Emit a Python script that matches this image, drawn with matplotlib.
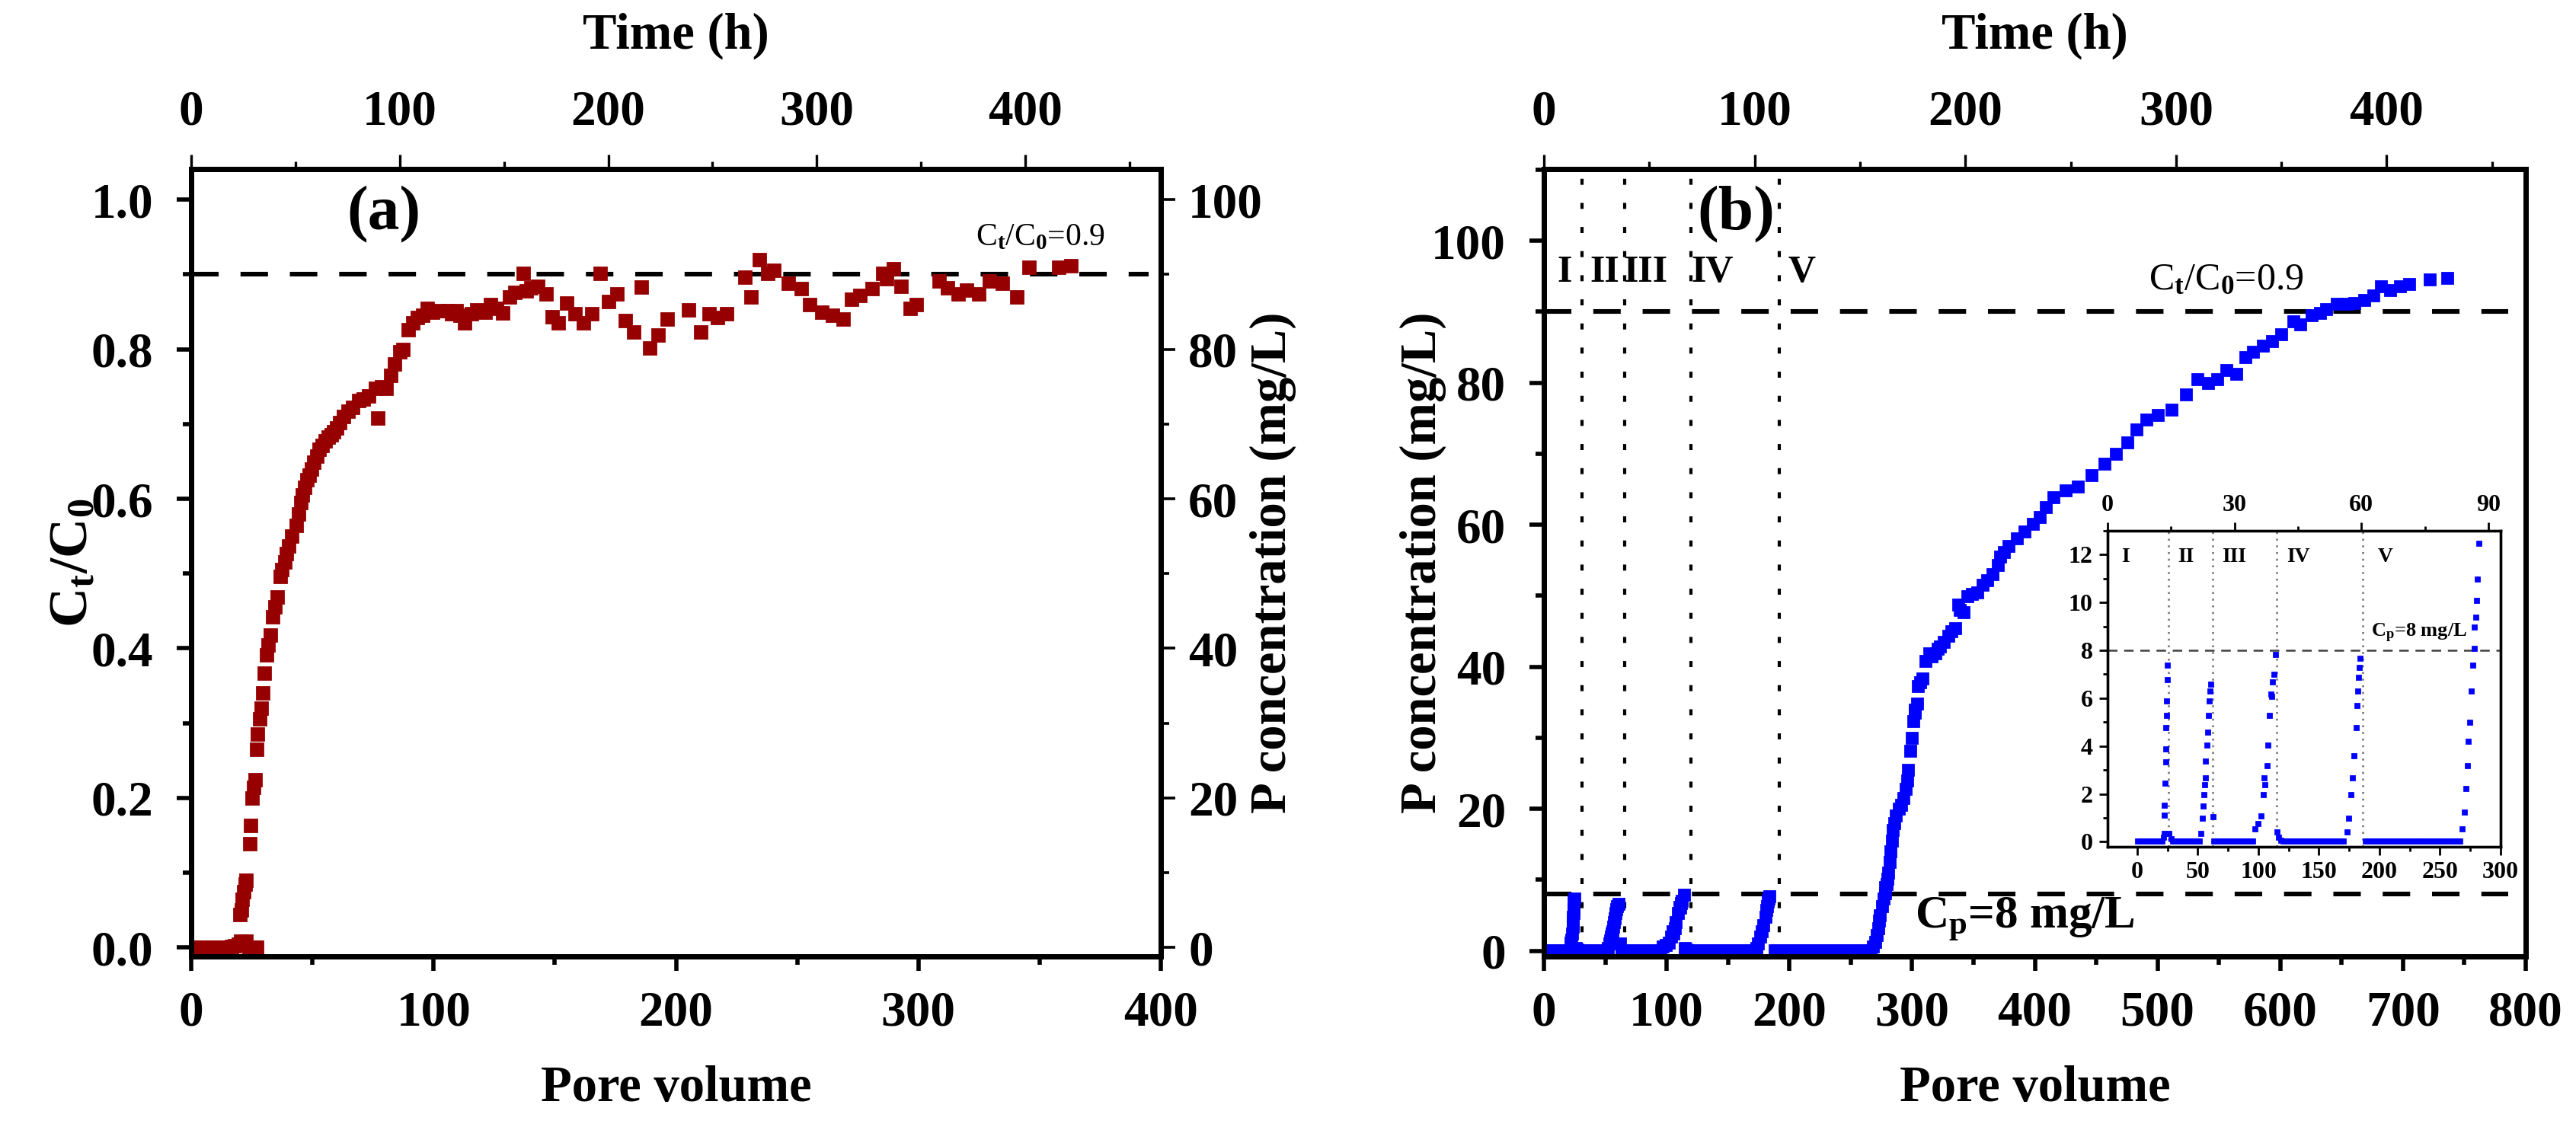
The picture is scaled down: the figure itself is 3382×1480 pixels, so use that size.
import matplotlib
matplotlib.use('Agg')
import matplotlib.pyplot as plt
from matplotlib.ticker import MultipleLocator

plt.rcParams['font.family'] = ['Liberation Serif', 'DejaVu Serif']
plt.rcParams['font.weight'] = 'bold'
plt.rcParams['mathtext.fontset'] = 'custom'
plt.rcParams['mathtext.rm'] = 'Liberation Serif'
plt.rcParams['mathtext.it'] = 'Liberation Serif:italic'
plt.rcParams['mathtext.bf'] = 'Liberation Serif:bold'

# ---------------- Panel (a) data: pore volume vs Ct/C0 ----------------
pv_a = [0, 1.5, 3, 4.5, 6, 7.5, 9, 10.5, 12, 13.5, 15, 16.5, 18, 19.5, 20.5, 21.5, 22.5, 24, 25.5, 27,
        20.1, 20.6, 21.1, 21.6, 22.2, 22.7, 24.3, 24.4, 25.2, 25.9, 26.5, 26.9, 27.4, 28.3, 28.8, 29.4,
        30.2, 31.1, 31.8, 32.6, 33.7, 34.5, 35.5, 36.7, 37.5, 38.5, 39.3, 40.3, 41.5, 43.3, 44.2, 45.1,
        46.0, 46.9, 47.8, 48.7, 49.6, 50.5, 51.7, 52.9, 54.1, 55.3, 56.5, 57.7, 58.9, 60.1, 61.3, 63,
        64.8, 66.5, 69, 71, 73.3, 77, 76.1, 78.5, 80.3, 82.4, 84, 86, 87.5, 89.6, 91.5, 93.2, 95.5, 97.4,
        99.5, 102.3, 105.8, 107.5, 109.3, 111, 112.9, 115.5, 117.8, 119.5, 121.3, 123.5, 126, 128.4,
        131.2, 133.5, 136.9, 138.3, 140, 142.9, 146.4, 149, 151.6, 155, 158.4, 161.9, 165.3, 168.8,
        172.2, 175.7, 179.1, 182.5, 185.6, 189.1, 192.5, 196.3, 205.3, 210.2, 213.6, 217, 220.8, 228.3,
        230.8, 234.3, 237.8, 240.4, 246.4, 251.6, 255, 260.2, 264.5, 268.9, 272.3, 275.8, 281, 285.3,
        287, 289.6, 293, 296.5, 299, 308.5, 312, 316.3, 319.8, 325, 329.3, 334.5, 340.6, 345.7, 357.8, 363]
ct_a = [0.0, 0.0, 0.0, 0.0, 0.0, 0.0, 0.0, 0.0, 0.0, 0.0, 0.0, 0.001, 0.002, 0.004, 0.008, 0.006, 0.008, 0.0, 0.0, 0.0,
        0.044, 0.05, 0.064, 0.075, 0.085, 0.09, 0.139, 0.163, 0.20, 0.214, 0.224, 0.265, 0.285, 0.306, 0.32, 0.340,
        0.367, 0.391, 0.405, 0.418, 0.442, 0.455, 0.469, 0.496, 0.505, 0.516, 0.527, 0.537, 0.55, 0.564, 0.58, 0.595,
        0.605, 0.615, 0.625, 0.632, 0.64, 0.649, 0.657, 0.666, 0.671, 0.677, 0.683, 0.686, 0.690, 0.695, 0.702, 0.71,
        0.717, 0.722, 0.731, 0.733, 0.738, 0.708, 0.748, 0.75, 0.748, 0.765, 0.78, 0.797, 0.80, 0.826, 0.835, 0.842, 0.845, 0.855,
        0.850, 0.852, 0.852, 0.848, 0.852, 0.845, 0.835, 0.848, 0.853, 0.852, 0.850, 0.860, 0.855, 0.849,
        0.870, 0.876, 0.901, 0.878, 0.882, 0.884, 0.874, 0.843, 0.835, 0.862, 0.847, 0.835, 0.847, 0.901,
        0.864, 0.874, 0.838, 0.823, 0.883, 0.802, 0.819, 0.840, 0.853, 0.823, 0.847, 0.842, 0.847, 0.896,
        0.870, 0.920, 0.901, 0.906, 0.888, 0.881, 0.860, 0.850, 0.845, 0.840, 0.867, 0.872, 0.881, 0.901,
        0.894, 0.908, 0.884, 0.855, 0.860, 0.891, 0.882, 0.874, 0.879, 0.874, 0.891, 0.888, 0.870, 0.910, 0.910, 0.912]

# ---------------- Panel (b) data: pore volume vs P concentration (mg/L) ----------------
base_b = 0.03  # baseline concentration read from the flat parts
flat_I_pv = [0, 2, 4, 6, 8, 10, 12, 14, 16, 18, 20]
spike_I_pv = [21.6, 22.2, 21.8, 22.2, 22.8, 23.3, 23.4, 23.6, 24.1, 24.2, 24.3, 24.8, 26.0, 27.4]
spike_I_c = [0.2, 0.35, 1.12, 1.54, 2.45, 3.36, 3.9, 4.8, 5.3, 5.9, 6.8, 7.4, 0.35, 0.14]
flat_II_pv = [29, 31, 33, 35, 37, 39, 41, 43, 45, 47, 49, 51]
spike_II_pv = [52, 53.4, 54.3, 54.8, 55.3, 55.7, 56.2, 57.1, 57.7, 58.6, 59.1, 59.7, 60.6, 62]
spike_II_c = [0.35, 1.0, 1.5, 2.0, 2.4, 2.7, 3.4, 4.06, 4.6, 5.3, 5.9, 6.3, 6.6, 1.05]
flat_III_pv = [63, 65, 67, 69, 71, 73, 75, 77, 79, 81, 83, 85, 87, 89, 91, 93, 95]
spike_III_pv = [96.6, 99.5, 102, 103.8, 104.7, 105.3, 106.7, 107.6, 109, 110.2, 110.8, 111.6, 112.5, 113.9,
                114.8, 116.2, 118]
spike_III_c = [0.56, 0.77, 1.1, 2.0, 2.7, 2.4, 3.2, 4.06, 5.3, 6.2, 6.1, 6.7, 7.0, 7.84, 0.42, 0.2, 0.07]
flat_IV_pv = [120, 122, 124, 126, 128, 130, 132, 134, 136, 138, 140, 142, 144, 146, 148, 150, 152, 154,
              156, 158, 160, 162, 164, 166, 168, 170]
spike_IV_pv = [173, 174.5, 176, 177.4, 178.8, 180.3, 181.1, 181.7, 182.6, 183.2, 183.7]
spike_IV_c = [0.42, 1.0, 2.0, 2.7, 3.6, 4.8, 5.7, 6.3, 6.9, 7.3, 7.7]
flat_V_pv = [188, 190, 192, 194, 196, 198, 200, 202, 204, 206, 208, 210, 212, 214, 216, 218, 220, 222,
             224, 226, 228, 230, 232, 234, 236, 238, 240, 242, 244, 246, 248, 250, 252, 254, 256, 258,
             260, 262, 264, 266]
rise_pv = [268.2, 269.7, 271, 272.6, 273.1, 274, 275.5, 276.9, 277.8, 278.3, 279.2, 279.8,
           280.5, 281.5, 282.5, 283.5, 284.5, 285.5, 287, 289, 291, 293, 294.5, 296, 296.5, 298.6, 299.5,
           300.8, 302, 302.5, 304, 305, 306.5, 308.7, 311, 314, 316, 318.8, 321, 323, 326, 329.7, 332,
           335.2, 337.4, 339, 341.9, 345.2, 349, 353, 357.5, 361, 365.3, 369.7, 372, 375, 378.6, 385.2,
           391.9, 398.5, 404, 409, 415, 425, 435, 446.5, 457, 466, 475.5, 483, 491, 500, 511.5, 522.9,
           532.2, 541.5, 548.7, 556, 564.2, 571.5, 577.7, 586, 593.2, 600.5, 610.8, 616, 625.3, 632.5,
           637.7, 646, 654.2, 660.4, 668.7, 676, 682.2, 689.4, 697.7, 705, 721.5, 736]
rise_c = [0.56, 1.26, 2.24, 3.2, 4.2, 5.0, 6.3, 7.4, 8.1, 9.0, 9.4, 10.1,
          11, 12.5, 14, 15.5, 17, 18, 19, 20, 20.5, 21.5, 22.8, 24, 25.5, 28.2, 30,
          32.3, 33.5, 34, 34.8, 37.3, 37.8, 38.4, 40.8, 41.9, 41.5, 41.9, 42.5, 42.9, 43.5, 44.4, 45,
          45.4, 48.7, 48, 47.7, 49.9, 50.2, 50.5, 51.5, 52.2, 53, 54.3, 55.5, 56.2, 57, 58.1,
          59.1, 60.1, 61.1, 62.5, 63.9, 64.8, 65.4, 67, 68.6, 70, 71.6, 73.4, 74.8, 75.5, 76.2, 78.4,
          80.5, 80, 80.5, 81.8, 81.2, 83.6, 84.4, 85.2, 85.9, 86.8, 88.6, 88.2, 89.5, 89.8,
          90.4, 91.1, 91.1, 91.2, 91.6, 92.3, 93.6, 93, 93.6, 93.9, 94.6, 94.8]

pv_b = (flat_I_pv + spike_I_pv + flat_II_pv + spike_II_pv + flat_III_pv + spike_III_pv +
        flat_IV_pv + spike_IV_pv + flat_V_pv + rise_pv)
c_b = ([base_b] * len(flat_I_pv) + spike_I_c + [base_b] * len(flat_II_pv) + spike_II_c +
       [base_b] * len(flat_III_pv) + spike_III_c + [base_b] * len(flat_IV_pv) + spike_IV_c +
       [base_b] * len(flat_V_pv) + rise_c)

# stage boundaries (pore volume) and stage labels
stage_lines_main = [31, 66, 120, 192]
stage_lines_inset = [26, 62, 115, 186]
stage_labels = ['I', 'II', 'III', 'IV', 'V']
stage_label_x_main = [16.7, 49.7, 83, 137, 210]
stage_label_x_inset = [-10, 40.4, 80.2, 132.7, 204.8]

# ---------------- figure ----------------
W, H = 3382, 1480
fig = plt.figure(figsize=(W / 200, H / 200), dpi=200)

def frac(l, r, t, b):
    return [l / W, 1 - b / H, (r - l) / W, (b - t) / H]

SPW = 2.5
red = '#960000'
blue = '#0000FF'
TFS = 23.5
LFS = 24

def style_spines(ax, lw):
    for s in ax.spines.values():
        s.set_linewidth(lw)

def center_label(lbl):
    lbl.set_va('center')
    lbl.set_ha('center')

# ---- panel (a)
axA = fig.add_axes(frac(251, 1524, 222, 1256))
axA.plot(pv_a, ct_a, 's', color=red, ms=6, mec=red, zorder=3)
axA.plot([0, 395], [0.9, 0.9], color='black', lw=2.2, ls=(0, (5.9, 4.7)), zorder=2)
axA.set_xlim(0, 400)
axA.set_ylim(-0.012, 1.041)
axA.xaxis.set_major_locator(MultipleLocator(100))
axA.xaxis.set_minor_locator(MultipleLocator(50))
axA.yaxis.set_major_locator(MultipleLocator(0.2))
axA.yaxis.set_minor_locator(MultipleLocator(0.1))
axA.yaxis.set_major_formatter(matplotlib.ticker.FormatStrFormatter('%.1f'))
axA.tick_params(which='major', direction='out', length=7, width=2, labelsize=TFS, top=False, right=False)
axA.tick_params(which='minor', direction='out', length=4, width=2, top=False, right=False)
axA.tick_params(axis='y', pad=11)
axA.tick_params(axis='x', pad=9)
style_spines(axA, SPW)
axA.set_xlabel('Pore volume', fontsize=LFS, fontweight='bold')
center_label(axA.xaxis.label)
axA.xaxis.set_label_coords(0.5, -0.168)
axA.set_ylabel(r'C$_\mathbf{t}$/C$_\mathbf{0}$', fontsize=LFS + 2, fontweight='bold')
center_label(axA.yaxis.label)
axA.yaxis.set_label_coords(-0.121, 0.5)
axA.text(79.5, 0.98, '(a)', fontsize=30, fontweight='bold', ha='center', va='center')
axA.text(377, 0.93, r'C$_\mathrm{t}$/C$_\mathrm{0}$=0.9', fontsize=15, fontweight='normal',
         ha='right', va='bottom')

axAr = axA.twinx()
axAr.set_ylim(-1.2, 104.1)
axAr.yaxis.set_major_locator(MultipleLocator(20))
axAr.yaxis.set_minor_locator(MultipleLocator(10))
axAr.tick_params(which='major', direction='out', length=7, width=1.3, labelsize=TFS, pad=6)
axAr.tick_params(which='minor', direction='out', length=4, width=1.3)
style_spines(axAr, SPW)
axAr.set_ylabel('P concentration (mg/L)', fontsize=LFS, fontweight='bold')
center_label(axAr.yaxis.label)
axAr.yaxis.set_label_coords(1.116, 0.5)

axAt = axA.twiny()
axAt.set_xlim(0, 465)
axAt.xaxis.set_major_locator(MultipleLocator(100))
axAt.xaxis.set_minor_locator(MultipleLocator(50))
axAt.tick_params(which='major', direction='out', length=7, width=1.2, labelsize=TFS, pad=9)
axAt.tick_params(which='minor', direction='out', length=3.5, width=1.2)
style_spines(axAt, SPW)
axAt.set_xlabel('Time (h)', fontsize=LFS, fontweight='bold')
center_label(axAt.xaxis.label)
axAt.xaxis.set_label_coords(0.5, 1.169)

# ---- panel (b)
axB = fig.add_axes(frac(2027, 3316, 222, 1256))
axB.plot(pv_b, c_b, 's', color=blue, ms=5, mec=blue, zorder=3)
axB.plot([0, 786], [90, 90], color='black', lw=2.2, ls=(0, (5.9, 4.7)), zorder=2)
axB.plot([0, 786], [8, 8], color='black', lw=2.2, ls=(0, (5.9, 4.7)), zorder=2)
for xv in stage_lines_main:
    axB.axvline(xv, color='black', lw=1.5, ls=(0, (1.9, 5.7)), zorder=1)
for lab, xv in zip(stage_labels, stage_label_x_main):
    axB.text(xv, 95.5, lab, fontsize=18, fontweight='bold', ha='center', va='center')
axB.text(156.6, 103.7, '(b)', fontsize=30, fontweight='bold', ha='center', va='center')
axB.text(619, 92.0, r'C$_\mathrm{t}$/C$_\mathrm{0}$=0.9', fontsize=18, fontweight='normal',
         ha='right', va='bottom')
axB.text(302, 4.4, r'C$_\mathbf{p}$=8 mg/L', fontsize=22, fontweight='bold', ha='left', va='center')
axB.set_xlim(0, 800)
axB.set_ylim(-0.8, 110.1)
axB.xaxis.set_major_locator(MultipleLocator(100))
axB.xaxis.set_minor_locator(MultipleLocator(50))
axB.yaxis.set_major_locator(MultipleLocator(20))
axB.yaxis.set_minor_locator(MultipleLocator(10))
axB.tick_params(which='major', direction='out', length=7, width=2, labelsize=TFS, top=False, right=False)
axB.tick_params(which='minor', direction='out', length=4, width=2, top=False, right=False)
axB.tick_params(axis='y', pad=11)
axB.tick_params(axis='x', pad=9)
style_spines(axB, SPW)
axB.set_xlabel('Pore volume', fontsize=LFS, fontweight='bold')
center_label(axB.xaxis.label)
axB.xaxis.set_label_coords(0.5, -0.168)
axB.set_ylabel('P concentration (mg/L)', fontsize=LFS, fontweight='bold')
center_label(axB.yaxis.label)
axB.yaxis.set_label_coords(-0.123, 0.5)

axBt = axB.twiny()
axBt.set_xlim(0, 466)
axBt.xaxis.set_major_locator(MultipleLocator(100))
axBt.xaxis.set_minor_locator(MultipleLocator(50))
axBt.tick_params(which='major', direction='out', length=7, width=1.2, labelsize=TFS, pad=9)
axBt.tick_params(which='minor', direction='out', length=3.5, width=1.2)
style_spines(axBt, SPW)
axBt.set_xlabel('Time (h)', fontsize=LFS, fontweight='bold')
center_label(axBt.xaxis.label)
axBt.xaxis.set_label_coords(0.5, 1.169)

# ---- inset
ins = fig.add_axes(frac(2767, 3283, 697, 1112))
ins.plot(pv_b, c_b, 's', color=blue, ms=1.8, mec=blue, zorder=3)
ins.plot([-24.5, 300], [8, 8], color='#404040', lw=0.9, ls=(0, (5, 3.5)), zorder=2)
for xv in stage_lines_inset:
    ins.axvline(xv, color='#707070', lw=0.9, ls=(0, (1, 2.5)), zorder=1)
for lab, xv in zip(stage_labels, stage_label_x_inset):
    ins.text(xv, 11.9, lab, fontsize=10, fontweight='bold', ha='center', va='center')
ins.text(193, 8.25, r'C$_\mathbf{p}$=8 mg/L', fontsize=9.5, fontweight='bold', ha='left', va='bottom')
ins.set_xlim(-24.5, 300)
ins.set_ylim(-0.21, 13.0)
ins.xaxis.set_major_locator(MultipleLocator(50))
ins.xaxis.set_minor_locator(MultipleLocator(25))
ins.yaxis.set_major_locator(MultipleLocator(2))
ins.yaxis.set_minor_locator(MultipleLocator(1))
ins.tick_params(which='major', direction='out', length=4, width=1, labelsize=11.5, pad=3, top=False, right=False)
ins.tick_params(which='minor', direction='out', length=2, width=1, top=False, right=False)
style_spines(ins, 1.2)
inst = ins.twiny()
inst.set_xlim(0, 92.9)
inst.xaxis.set_major_locator(MultipleLocator(30))
inst.xaxis.set_minor_locator(MultipleLocator(15))
inst.tick_params(which='major', direction='out', length=4, width=1, labelsize=11.5, pad=3)
inst.tick_params(which='minor', direction='out', length=2, width=1)
style_spines(inst, 1.2)

fig.savefig('out.png', dpi=200)
